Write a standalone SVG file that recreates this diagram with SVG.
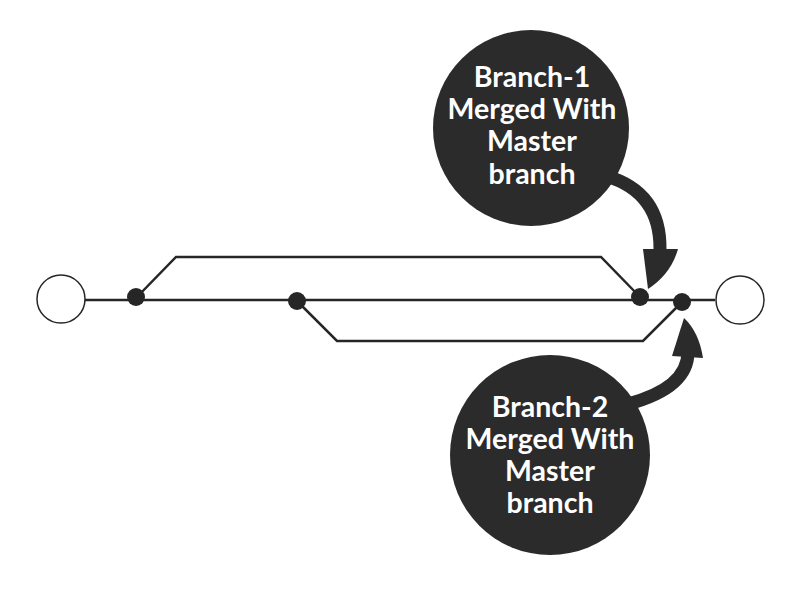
<svg xmlns="http://www.w3.org/2000/svg" width="800" height="600" viewBox="0 0 800 600">
<style>
.ln{fill:none;stroke:#262626;stroke-width:2.5;stroke-linejoin:miter}
.dot{fill:#262626}
.end{fill:#fff;stroke:#262626;stroke-width:1.5}
.bub{fill:#2b2b2b}
.tail{fill:none;stroke:#2b2b2b;stroke-width:13}
.txt{font-family:Lato,"Liberation Sans",sans-serif;font-weight:bold;font-size:28.5px;fill:#fff;text-anchor:middle}
</style>
<rect width="800" height="600" fill="#fff"/>
<g id="connectors">
<path class="ln" d="M85,300 L715,300"/>
<path class="ln" d="M136,298 L176,257 L601,257 L640,297"/>
<path class="ln" d="M297,301 L337,341 L643,341 L682,302"/>
</g>
<g id="start"><circle class="end" cx="61" cy="299" r="24"/></g>
<g id="end"><circle class="end" cx="740" cy="300" r="24"/></g>
<g id="commit1"><circle class="dot" cx="136" cy="297" r="9"/></g>
<g id="commit2"><circle class="dot" cx="297" cy="301" r="9"/></g>
<g id="merge1"><circle class="dot" cx="640" cy="297" r="9"/></g>
<g id="merge2"><circle class="dot" cx="682" cy="302" r="9"/></g>
<g id="callout1">
<path class="tail" d="M606,176 Q661,192 660,250"/>
<path class="bub" d="M643,249 L678,249 Q671,274 648,289 Z"/>
<circle class="bub" cx="531" cy="128" r="98"/>
<text class="txt"><tspan x="532" y="87">Branch-1</tspan><tspan x="532" y="119">Merged With</tspan><tspan x="532" y="151">Master</tspan><tspan x="532" y="184">branch</tspan></text>
</g>
<g id="callout2">
<path class="tail" d="M628,404 Q688,388 688,352"/>
<path class="bub" d="M672,356 L703,358 Q699,332 684,318 Z"/>
<circle class="bub" cx="550" cy="455" r="100"/>
<text class="txt"><tspan x="550" y="417">Branch-2</tspan><tspan x="550" y="449">Merged With</tspan><tspan x="550" y="481">Master</tspan><tspan x="550" y="513">branch</tspan></text>
</g>
</svg>
